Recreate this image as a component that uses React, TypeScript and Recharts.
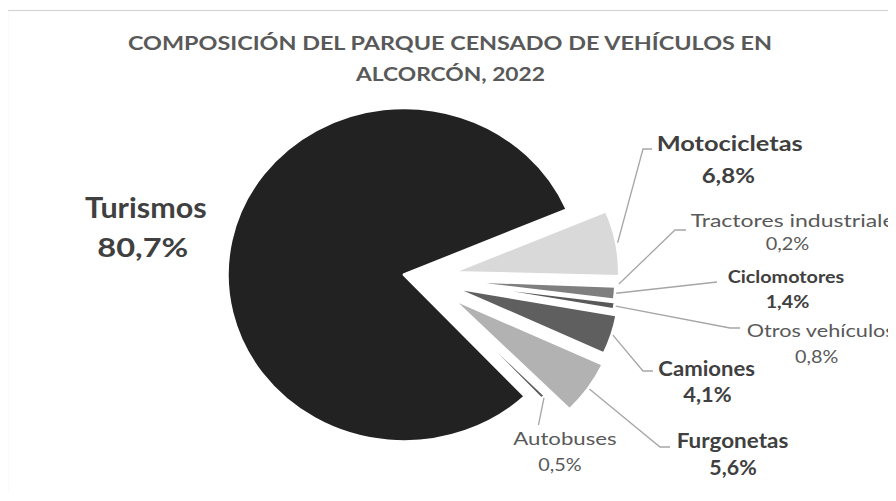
import React from 'react';
import { PieChart, Pie, Cell, Sector } from 'recharts';

// data
const categories = [
  'Turismos',
  'Motocicletas',
  'Tractores industriales',
  'Ciclomotores',
  'Otros vehículos',
  'Camiones',
  'Furgonetas',
  'Autobuses',
];
const shares = [80.7, 6.8, 0.2, 1.4, 0.8, 4.1, 5.6, 0.5];
const shareLabels = ['80,7%', '6,8%', '0,2%', '1,4%', '0,8%', '4,1%', '5,6%', '0,5%'];
const titleLines = ['COMPOSICIÓN DEL PARQUE CENSADO DE VEHÍCULOS EN', 'ALCORCÓN, 2022'];

// styling
const colors = ['#222222', '#d9d9d9', '#a5a5a5', '#7f7f7f', '#595959', '#5f5f5f', '#b2b2b2', '#595959'];
const explode = [16, 30, 28, 26, 27, 31, 35, 8];
const boldLabel = [true, true, false, true, false, true, true, false];
const SX = 1.06; // the original picture is a bit wider than tall
const R = 158;
const radiusFactor = (i: number) => (i === 0 ? 167 / 158 : 1);
const FONT = 'Lato, "Open Sans", sans-serif';

// label layout: name/value text boxes and leader line bends
type Lay = {
  anchor: 'start' | 'middle';
  nx: number; ny: number; nw: number; ns: number;
  vx: number; vy: number; vw: number; vs: number;
  bend?: [number, number]; end?: [number, number];
};
const labelLayout: Lay[] = [
  { anchor: 'middle', nx: 145.8, ny: 218.3, nw: 121.7, ns: 29, vx: 142.8, vy: 256.7, vw: 91, vs: 27 },
  { anchor: 'middle', nx: 729.7, ny: 150.7, nw: 146, ns: 20.5, vx: 728.3, vy: 183.3, vw: 53.3, vs: 20.5, bend: [643, 149], end: [652, 149] },
  { anchor: 'start', nx: 690.7, ny: 226.7, nw: 214, ns: 16.5, vx: 787.5, vy: 250, vw: 43.6, vs: 16.5, bend: [675, 230], end: [686, 230] },
  { anchor: 'middle', nx: 786, ny: 283.3, nw: 116.6, ns: 16.5, vx: 787.5, vy: 308.3, vw: 43.6, vs: 16.5, bend: [717, 282], end: [717, 282] },
  { anchor: 'start', nx: 746.7, ny: 336.7, nw: 148, ns: 16.5, vx: 816.7, vy: 363.3, vw: 43.3, vs: 16.5, bend: [730, 328], end: [740, 328] },
  { anchor: 'middle', nx: 706.7, ny: 376, nw: 96.7, ns: 20, vx: 707.5, vy: 401.7, vw: 48.4, vs: 20, bend: [643, 371], end: [653, 371] },
  { anchor: 'middle', nx: 732.5, ny: 447.7, nw: 111.6, ns: 20, vx: 733, vy: 475, vw: 47.4, vs: 20, bend: [660, 447], end: [670, 447] },
  { anchor: 'middle', nx: 565, ny: 445, nw: 103.4, ns: 16.5, vx: 560, vy: 471, vw: 43.4, vs: 16.5, bend: [538.5, 425], end: [538.5, 425] },
];

const pieData = categories.map((name, i) => ({ name, value: shares[i] }));

// exploded slice, pushed out along its mid angle
const ExplodedSector = (props: any) => {
  const { cx, cy, midAngle, startAngle, endAngle, fill, outerRadius } = props;
  const name = props.name ?? props.payload?.name;
  const i = categories.indexOf(name);
  const rad = (midAngle * Math.PI) / 180;
  const ox = explode[i] * Math.cos(rad);
  const oy = -explode[i] * Math.sin(rad);
  return (
    <g transform={`translate(${cx} ${cy}) scale(${SX} 1) translate(${ox - cx} ${oy - cy})`}>
      <Sector
        cx={cx}
        cy={cy}
        innerRadius={0}
        outerRadius={outerRadius * radiusFactor(i)}
        startAngle={startAngle}
        endAngle={endAngle}
        fill={fill}
        stroke="#ffffff"
        strokeWidth={3}
        strokeLinejoin="round"
      />
    </g>
  );
};

const renderLabel = (props: any) => {
  const { cx, cy, midAngle, outerRadius, index } = props;
  const lay = labelLayout[index];
  const bold = boldLabel[index];
  const color = bold ? '#404040' : '#595959';
  let leader = null;
  if (lay.bend && lay.end) {
    const rad = (midAngle * Math.PI) / 180;
    const r = outerRadius * radiusFactor(index) + 1 + explode[index];
    const sx = cx + SX * r * Math.cos(rad);
    const sy = cy - r * Math.sin(rad);
    leader = (
      <polyline
        points={`${sx},${sy} ${lay.bend[0]},${lay.bend[1]} ${lay.end[0]},${lay.end[1]}`}
        fill="none"
        stroke="#a6a6a6"
        strokeWidth={1.3}
      />
    );
  }
  return (
    <g key={`lbl-${index}`}>
      {leader}
      <text
        x={lay.nx}
        y={lay.ny}
        textAnchor={lay.anchor}
        fontFamily={FONT}
        fontSize={lay.ns}
        fontWeight={bold ? 700 : 400}
        fill={color}
        textLength={lay.nw}
        lengthAdjust="spacingAndGlyphs"
      >
        {categories[index]}
      </text>
      <text
        x={lay.vx}
        y={lay.vy}
        textAnchor="middle"
        fontFamily={FONT}
        fontSize={lay.vs}
        fontWeight={bold ? 700 : 400}
        fill={color}
        textLength={lay.vw}
        lengthAdjust="spacingAndGlyphs"
      >
        {shareLabels[index]}
      </text>
    </g>
  );
};

const App = () => {
  return (
    <div style={{ position: 'relative', margin: -8, width: 896, height: 501, overflow: 'hidden', background: '#fff' }}>
      <svg width={896} height={501} style={{ position: 'absolute', left: 0, top: 0 }}>
        {/* chart frame, runs off the right and bottom edges like the original */}
        <rect x={7.5} y={10.5} width={900} height={500} fill="none" stroke="#d4d4d4" strokeWidth={1.2} />
        <text x={450} y={49.5} textAnchor="middle" fontFamily={FONT} fontSize={19.5} fontWeight={700} fill="#595959" textLength={644} lengthAdjust="spacingAndGlyphs">
          {titleLines[0]}
        </text>
        <text x={450.5} y={81} textAnchor="middle" fontFamily={FONT} fontSize={19.5} fontWeight={700} fill="#595959" textLength={189} lengthAdjust="spacingAndGlyphs">
          {titleLines[1]}
        </text>
      </svg>
      <div style={{ position: 'absolute', left: 0, top: 0 }}>
        <PieChart width={896} height={501}>
          <Pie
            data={pieData}
            dataKey="value"
            nameKey="name"
            cx={415.8}
            cy={273}
            outerRadius={R}
            startAngle={-46.8}
            endAngle={-406.8}
            stroke="none"
            shape={ExplodedSector}
            label={renderLabel}
            labelLine={false}
            isAnimationActive={false}
          >
            {pieData.map((d, i) => (
              <Cell key={d.name} fill={colors[i]} />
            ))}
          </Pie>
        </PieChart>
      </div>
    </div>
  );
};

export default App;
